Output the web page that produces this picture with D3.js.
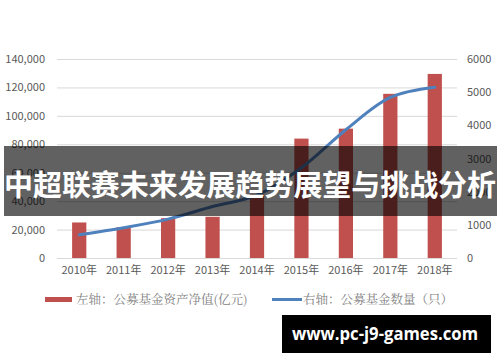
<!DOCTYPE html>
<html>
<head>
<meta charset="utf-8">
<script src="https://cdn.jsdelivr.net/npm/d3@7"></script>
<style>
  body { margin: 0; background: #fff; }
  svg { display: block; }
</style>
</head>
<body>
<svg id="chart"></svg>
<script>
// data
const years = ['2010年', '2011年', '2012年', '2013年', '2014年', '2015年', '2016年', '2017年', '2018年'];
const navValues = [25000, 21700, 28000, 29000, 45000, 84000, 91000, 115500, 129500];
const fundCounts = [704, 914, 1173, 1552, 1897, 2722, 3867, 4841, 5147];
const leftTicks = [0, 20000, 40000, 60000, 80000, 100000, 120000, 140000];
const rightTicks = [0, 1000, 2000, 3000, 4000, 5000, 6000];
const legendLabels = ['左轴：公募基金资产净值(亿元)', '右轴：公募基金数量（只）'];
const title = '中超联赛未来发展趋势展望与挑战分析';
const watermark = 'www.pc-j9-games.com';

const W = 500, H = 362;
const M = { top: 59, right: 43, bottom: 104, left: 57 };
const iw = W - M.left - M.right;
const ih = H - M.top - M.bottom;

const BAR = '#c0504d';
const LINE = '#4f81bd';
const FONT = '"Noto Sans CJK SC", "Noto Sans", sans-serif';

const svg = d3.select('#chart').attr('width', W).attr('height', H);
const g = svg.append('g').attr('transform', `translate(${M.left},${M.top})`);

const x = d3.scaleBand().domain(years).range([0, iw]).paddingInner(0.68).paddingOuter(0.34);
const yL = d3.scaleLinear().domain([0, 140000]).range([ih, 0]);
const yR = d3.scaleLinear().domain([0, 6000]).range([ih, 0]);

// grid
g.append('g')
    .call(d3.axisLeft(yL).tickValues(leftTicks).tickSize(-iw).tickFormat(''))
    .call(a => a.select('.domain').remove())
    .call(a => a.selectAll('line').attr('stroke', '#d9d9d9'));

// left axis labels
g.append('g')
    .call(d3.axisLeft(yL).tickValues(leftTicks).tickSize(0).tickPadding(12).tickFormat(d3.format(',')))
    .call(a => a.select('.domain').remove())
    .call(a => a.selectAll('text').attr('fill', '#595959').style('font-family', FONT).style('font-size', '11px'));

// right axis labels
g.append('g')
    .attr('transform', `translate(${iw},0)`)
    .call(d3.axisRight(yR).tickValues(rightTicks).tickSize(0).tickPadding(10).tickFormat(d3.format('d')))
    .call(a => a.select('.domain').remove())
    .call(a => a.selectAll('text').attr('fill', '#595959').style('font-family', FONT).style('font-size', '11px'));

// x axis
g.append('g')
    .attr('transform', `translate(0,${ih})`)
    .call(d3.axisBottom(x).tickSize(0).tickPadding(8))
    .call(a => a.select('.domain').remove())
    .call(a => a.selectAll('text').attr('fill', '#595959').style('font-family', FONT).style('font-size', '11px'));

// bars
g.selectAll('.bar').data(navValues).join('rect')
    .attr('x', (d, i) => x(years[i]))
    .attr('y', d => yL(d))
    .attr('width', x.bandwidth())
    .attr('height', d => ih - yL(d))
    .attr('fill', BAR);

// line
const line = d3.line()
    .x((d, i) => x(years[i]) + x.bandwidth() / 2)
    .y(d => yR(d))
    .curve(d3.curveCatmullRom.alpha(0.5));
g.append('path').datum(fundCounts)
    .attr('d', line)
    .attr('fill', 'none')
    .attr('stroke', LINE)
    .attr('stroke-width', 3)
    .attr('stroke-linecap', 'round');

// legend
const lg = svg.append('g').style('font-family', '"Noto Serif CJK SC", "Noto Sans CJK SC", serif').style('font-size', '12.5px');
lg.append('rect').attr('x', 45).attr('y', 297).attr('width', 27).attr('height', 5).attr('fill', BAR);
lg.append('text').attr('x', 76).attr('y', 304).attr('fill', '#7f7f7f').text(legendLabels[0]);
lg.append('line').attr('x1', 272).attr('x2', 302).attr('y1', 299.5).attr('y2', 299.5)
    .attr('stroke', LINE).attr('stroke-width', 3);
lg.append('text').attr('x', 303).attr('y', 304).attr('fill', '#7f7f7f').text(legendLabels[1]);

// banner overlay
svg.append('rect').attr('x', 4).attr('y', 146).attr('width', 493).attr('height', 70)
    .attr('fill', 'rgba(0,0,0,0.62)');
svg.append('text')
    .attr('x', 250).attr('y', 183)
    .attr('text-anchor', 'middle').attr('dominant-baseline', 'central')
    .attr('fill', '#fff')
    .style('font-family', FONT).style('font-weight', 'bold').style('font-size', '29px')
    .attr('textLength', 492).attr('lengthAdjust', 'spacingAndGlyphs')
    .text(title);

// watermark
svg.append('rect').attr('x', 282).attr('y', 315).attr('width', 209).attr('height', 38).attr('fill', '#000');
svg.append('text')
    .attr('x', 385).attr('y', 333)
    .attr('text-anchor', 'middle').attr('dominant-baseline', 'central')
    .attr('fill', '#fff')
    .style('font-family', '"Open Sans", sans-serif').style('font-weight', 'bold').style('font-size', '17px')
    .attr('textLength', 186).attr('lengthAdjust', 'spacingAndGlyphs')
    .text(watermark);
</script>
</body>
</html>
